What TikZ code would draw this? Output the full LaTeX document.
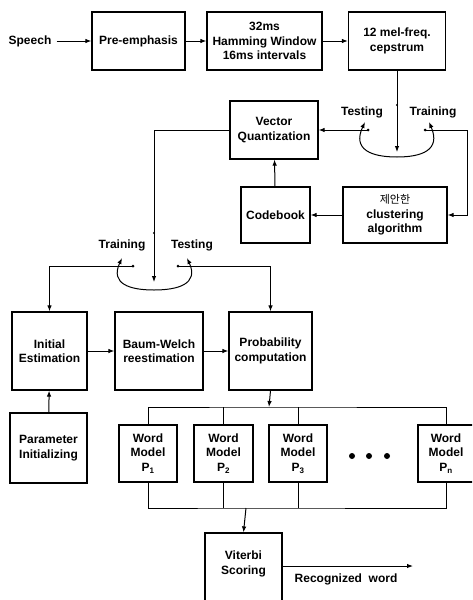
\documentclass[tikz,border=0pt]{standalone}
\usepackage{fontspec}
\setmainfont{Liberation Sans}
\newfontfamily\cjk{Noto Sans CJK KR}
\usetikzlibrary{arrows.meta}
\begin{document}
\begin{tikzpicture}[x=1pt,y=-1pt,
  box/.style={draw,line width=1.2pt,inner sep=0pt,align=center,font=\fontsize{12}{14.5}\selectfont\bfseries},
  lbl/.style={inner sep=0pt,font=\fontsize{12}{14.5}\selectfont\bfseries},
  con/.style={line width=1pt},
  arr/.style={con,-{Latex[length=6pt,width=4.5pt]}},
  sw/.style={con,{Latex[length=6pt,width=4.5pt]}-{Latex[length=6pt,width=4.5pt]}}]
\clip (0,0) rectangle (472,600);
% top row
\node[lbl] (speech) at (30,41) {Speech};
\node[box,minimum width=93,minimum height=58] (pre) at (138.5,41) {Pre-emphasis};
\node[box,minimum width=115,minimum height=58] (ham) at (264.5,41) {32ms\\Hamming Window\\16ms intervals};
\node[box,minimum width=97,minimum height=58] (cep) at (397,41) {12 mel-freq.\\cepstrum};
\draw[arr] (speech.east)++(5,0) -- (pre.west);
\draw[arr] (pre) -- (ham);
\draw[arr] (ham) -- (cep);
% VQ part
\node[box,minimum width=88,minimum height=58] (vq) at (274,130) {Vector\\Quantization};
\node[box,minimum width=69,minimum height=56] (cb) at (275.5,215) {Codebook};
\node[box,minimum width=104,minimum height=56] (clu) at (395,215) {{\cjk\mdseries\fontsize{11}{14.5}\selectfont 제안한}\\clustering\\algorithm};
\coordinate (s1) at (397,152);
\coordinate (c1l) at (368,130);
\coordinate (c1r) at (425,130);
\coordinate (r1) at (467,130);
\draw[arr] (cep.south) -- (s1);
\fill (397,105) circle (1.2);
\draw[sw] (365,122) .. controls (352,150) and (372,157) .. (397,157) .. controls (422,157) and (441,150) .. (429,122);
\fill (c1l) circle (1.5) (c1r) circle (1.5);
\node[lbl] (test1) at (362,112) {Testing};
\node[lbl] (train1) at (433,112) {Training};
\draw[arr] (c1l) -- (vq.east);
\draw[arr] (c1r) -- (r1) |- (clu.east);
\draw[arr] (clu) -- (cb);
\draw[arr] (cb) -- (vq);
% second switch
\coordinate (b1) at (154,130);
\coordinate (s2) at (154,282);
\coordinate (c2l) at (133,266);
\coordinate (c2r) at (178,266);
\draw[arr] (vq.west) -- (b1) -- (s2);
\fill (154,233) circle (1.2);
\draw[sw] (122,258) .. controls (110,284) and (130,290) .. (154,290) .. controls (178,290) and (199,284) .. (187,258);
\fill (c2l) circle (1.5) (c2r) circle (1.5);
\node[lbl] (train2) at (122,245) {Training};
\node[lbl] (test2) at (192,245) {Testing};
% HMM row
\node[box,minimum width=75,minimum height=78] (init) at (49.5,351) {Initial\\Estimation};
\node[box,minimum width=88,minimum height=78] (bw) at (159,351) {Baum-Welch\\reestimation};
\node[box,minimum width=83,minimum height=78] (prob) at (270.5,351) {Probability\\computation};
\node[box,minimum width=77,minimum height=70] (par) at (48.5,448) {Parameter\\Initializing};
\draw[arr] (c2l) -| (init.north);
\draw[arr] (c2r) -| (prob.north);
\draw[arr] (init) -- (bw);
\draw[arr] (bw) -- (prob);
\draw[arr] (par) -- (init);
% word models
\node[box,minimum width=58,minimum height=57] (p1) at (148,453.5) {Word\\Model\\P\textsubscript{1}};
\node[box,minimum width=59,minimum height=57] (p2) at (223.5,453.5) {Word\\Model\\P\textsubscript{2}};
\node[box,minimum width=58,minimum height=57] (p3) at (298,453.5) {Word\\Model\\P\textsubscript{3}};
\node[box,minimum width=56,minimum height=57] (pn) at (446,453.5) {Word\\Model\\P\textsubscript{n}};
\coordinate (bt) at (269,407);
\draw[arr] (prob.south) -- (bt);
\draw[con] (p1.north) |- (bt) -| (pn.north);
\draw[con] (p2.north) -- (p2.north |- bt);
\draw[con] (p3.north) -- (p3.north |- bt);
\coordinate (bb) at (246,508);
\draw[con] (p1.south) |- (bb) -| (pn.south);
\draw[con] (p2.south) -- (p2.south |- bb);
\draw[con] (p3.south) -- (p3.south |- bb);
\foreach \x in {352,369,387} \fill (\x,456) circle (3);
% viterbi
\node[box,minimum width=77,minimum height=80,text depth=0pt] (vit) at (243.5,573) {Viterbi\\Scoring\\[6pt]\mbox{}};
\coordinate (out) at (413,566);
\draw[arr] (bb) -- (vit.north);
\draw[arr] (vit.east |- out) -- (out);
\node[lbl] (rw) at (346,579) {Recognized\ \ word};
\end{tikzpicture}
\end{document}
